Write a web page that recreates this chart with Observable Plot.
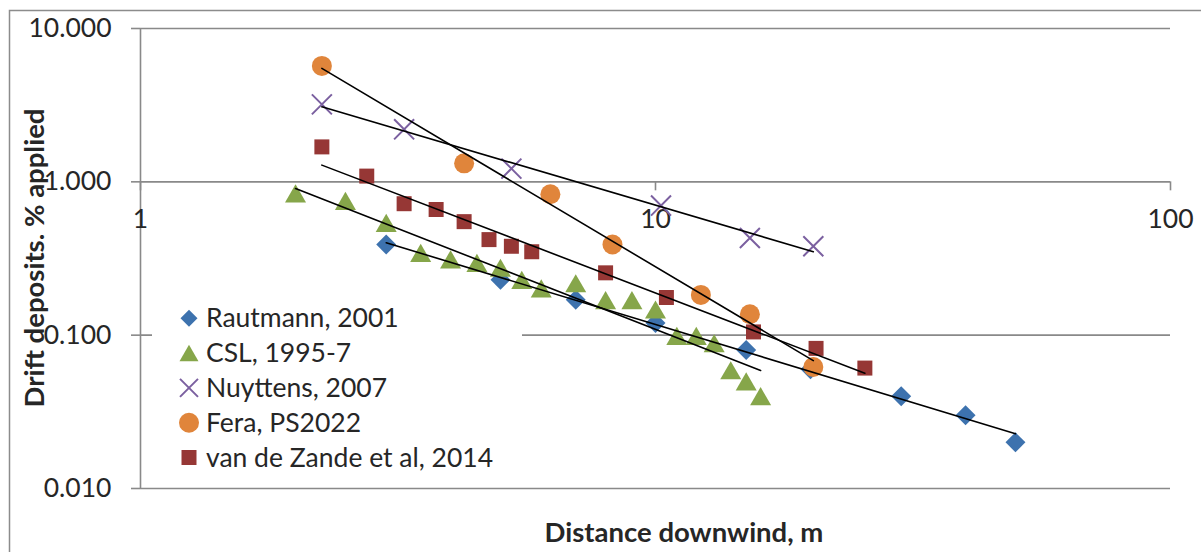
<!DOCTYPE html>
<html><head><meta charset="utf-8">
<script src="https://cdn.jsdelivr.net/npm/d3@7"></script>
<script src="https://cdn.jsdelivr.net/npm/@observablehq/plot@0.6"></script>
<style>
html,body{margin:0;padding:0;background:#fff;}
#chart{position:relative;width:1201px;height:552px;overflow:hidden;}
</style></head><body><div id="chart"></div>
<script>
// ---- data ----
const seriesNames = ["Rautmann, 2001", "CSL, 1995-7", "Nuyttens, 2007", "Fera, PS2022", "van de Zande et al, 2014"];
const rautmannX = [3, 5, 7, 10, 15, 20, 30, 40, 50];
const rautmannY = [0.39, 0.23, 0.17, 0.12, 0.08, 0.06, 0.04, 0.03, 0.02];
const cslX = [2, 2.5, 3, 3.5, 4, 4.5, 5, 5.5, 6, 7, 8, 9, 10, 11, 12, 13, 14, 15, 16];
const cslY = [0.84, 0.75, 0.54, 0.344, 0.312, 0.296, 0.275, 0.229, 0.202, 0.218, 0.169, 0.169, 0.147, 0.099, 0.099, 0.0885, 0.059, 0.05, 0.04];
const nuyttensX = [2.25, 3.25, 5.25, 10.25, 15.25, 20.25];
const nuyttensY = [3.2, 2.2, 1.22, 0.70, 0.43, 0.38];
const feraX = [2.25, 4.25, 6.25, 8.25, 12.25, 15.25, 20.25];
const feraY = [5.7, 1.32, 0.83, 0.39, 0.183, 0.137, 0.062];
const zandeX = [2.25, 2.75, 3.25, 3.75, 4.25, 4.75, 5.25, 5.75, 8, 10.5, 15.5, 20.5, 25.5];
const zandeY = [1.69, 1.09, 0.72, 0.66, 0.55, 0.42, 0.38, 0.35, 0.255, 0.176, 0.105, 0.082, 0.061];
const xTicks = [1, 10, 100];
const yTicks = [0.01, 0.1, 1, 10];
const xTitle = "Distance downwind, m";
const yTitle = "Drift deposits. % applied";

// ---- styles ----
const FONT = "Lato, 'Open Sans', sans-serif";
const TEXT = "#262626";
const GRID = "#898989";
const styles = [
  {color: "#3D72AE", symbol: "diamond2", r: 9.0, lsize: 184, d3sym: d3.symbolDiamond2, fill: true},
  {color: "#86A64A", symbol: "triangle", r: 7.8, lsize: 156, d3sym: d3.symbolTriangle, fill: true, dy: 3},
  {color: "#7B60A0", symbol: "times", r: 9.15, lsize: 213, d3sym: d3.symbolTimes, fill: false},
  {color: "#E0853B", symbol: "circle", r: 10, lsize: 314, d3sym: d3.symbolCircle, fill: true},
  {color: "#963735", symbol: "square", r: 8.46, lsize: 225, d3sym: d3.symbolSquare, fill: true}
];
const seriesData = [[rautmannX, rautmannY], [cslX, cslY], [nuyttensX, nuyttensY], [feraX, feraY], [zandeX, zandeY]];

const tables = seriesData.map(([xs, ys], k) => xs.map((x, i) => ({series: seriesNames[k], x, y: ys[i]})));

// power-law (log-log least squares) trend lines, as Excel "power" trendline
const trend = tables.flatMap(rows => {
  const lx = rows.map(d => Math.log(d.x)), ly = rows.map(d => Math.log(d.y));
  const mx = d3.mean(lx), my = d3.mean(ly);
  const b = d3.sum(lx, (v, i) => (v - mx) * (ly[i] - my)) / d3.sum(lx, v => (v - mx) ** 2);
  const a = my - b * mx;
  const [x0, x1] = d3.extent(rows, d => d.x);
  return [x0, x1].map(x => ({series: rows[0].series, x, y: Math.exp(a + b * Math.log(x))}));
});

const W = 1201, H = 552, mL = 140, mR = 31, mT = 28, mB = 64;
const yDomain = [0.01, 10];
const axisOffset = (H - mT - mB) * (Math.log10(1) - Math.log10(yDomain[0])) / (Math.log10(yDomain[1]) - Math.log10(yDomain[0]));

const dotMarks = tables.map((rows, k) => {
  const s = styles[k];
  return Plot.dot(rows, {
    x: "x", y: "y", symbol: () => s.symbol, r: s.r, dy: s.dy || 0,
    fill: s.fill ? s.color : "none", stroke: s.fill ? "none" : s.color, strokeWidth: 2
  });
});

const plot = Plot.plot({
  width: W, height: H, marginLeft: mL, marginRight: mR, marginTop: mT, marginBottom: mB,
  style: {fontFamily: FONT, fontSize: "26.5px", background: "transparent", color: TEXT, overflow: "visible"},
  x: {type: "log", domain: [1, 100]},
  y: {type: "log", domain: yDomain},
  symbol: {type: "identity"},
  marks: [
    Plot.ruleY(yTicks, {stroke: GRID, strokeWidth: 1.6}),
    Plot.ruleX([1], {stroke: GRID, strokeWidth: 1.6}),
    Plot.axisY({ticks: yTicks, tickFormat: d3.format(".3f"), tickSize: 9, tickPadding: 20, stroke: GRID, strokeWidth: 1.6, fill: TEXT, label: null}),
    Plot.axisX({ticks: xTicks, tickFormat: d3.format("d"), tickSize: 9, tickPadding: 18, dy: -axisOffset, stroke: GRID, strokeWidth: 1.6, fill: TEXT, label: null}),
    ...dotMarks,
    Plot.line(trend, {x: "x", y: "y", z: "series", stroke: "#000", strokeWidth: 1.6})
  ]
});

const svg = d3.select(plot);
// outer chart border (left & top visible in the crop)
svg.append("path").attr("d", `M9.5,${H}V10.5H${W}`).attr("fill", "none").attr("stroke", "#8c8c8c").attr("stroke-width", 1.5);
// axis titles
svg.append("text").attr("transform", "translate(44,258) rotate(-90)").attr("text-anchor", "middle")
  .attr("font-weight", "bold").attr("font-size", "27.5px").attr("fill", TEXT).text(yTitle);
svg.append("text").attr("x", 684).attr("y", 542).attr("text-anchor", "middle")
  .attr("font-weight", "bold").attr("font-size", "27.5px").attr("fill", TEXT).text(xTitle);
// legend
const lg = svg.append("g").attr("text-anchor", "start");
lg.append("rect").attr("x", 152).attr("y", 297).attr("width", 370).attr("height", 185).attr("fill", "#fff");
seriesNames.forEach((name, i) => {
  const s = styles[i];
  const base = 327.3 + i * 34.8;
  lg.append("path").attr("d", d3.symbol(s.d3sym, s.lsize)())
    .attr("transform", `translate(189,${base - 9 + (s.dy ? 2.7 : 0)})`)
    .attr("fill", s.fill ? s.color : "none").attr("stroke", s.fill ? "none" : s.color).attr("stroke-width", 2);
  lg.append("text").attr("x", 206).attr("y", base).attr("fill", TEXT).attr("font-size", "26.5px").text(name);
});

document.getElementById("chart").appendChild(plot);
</script></body></html>
